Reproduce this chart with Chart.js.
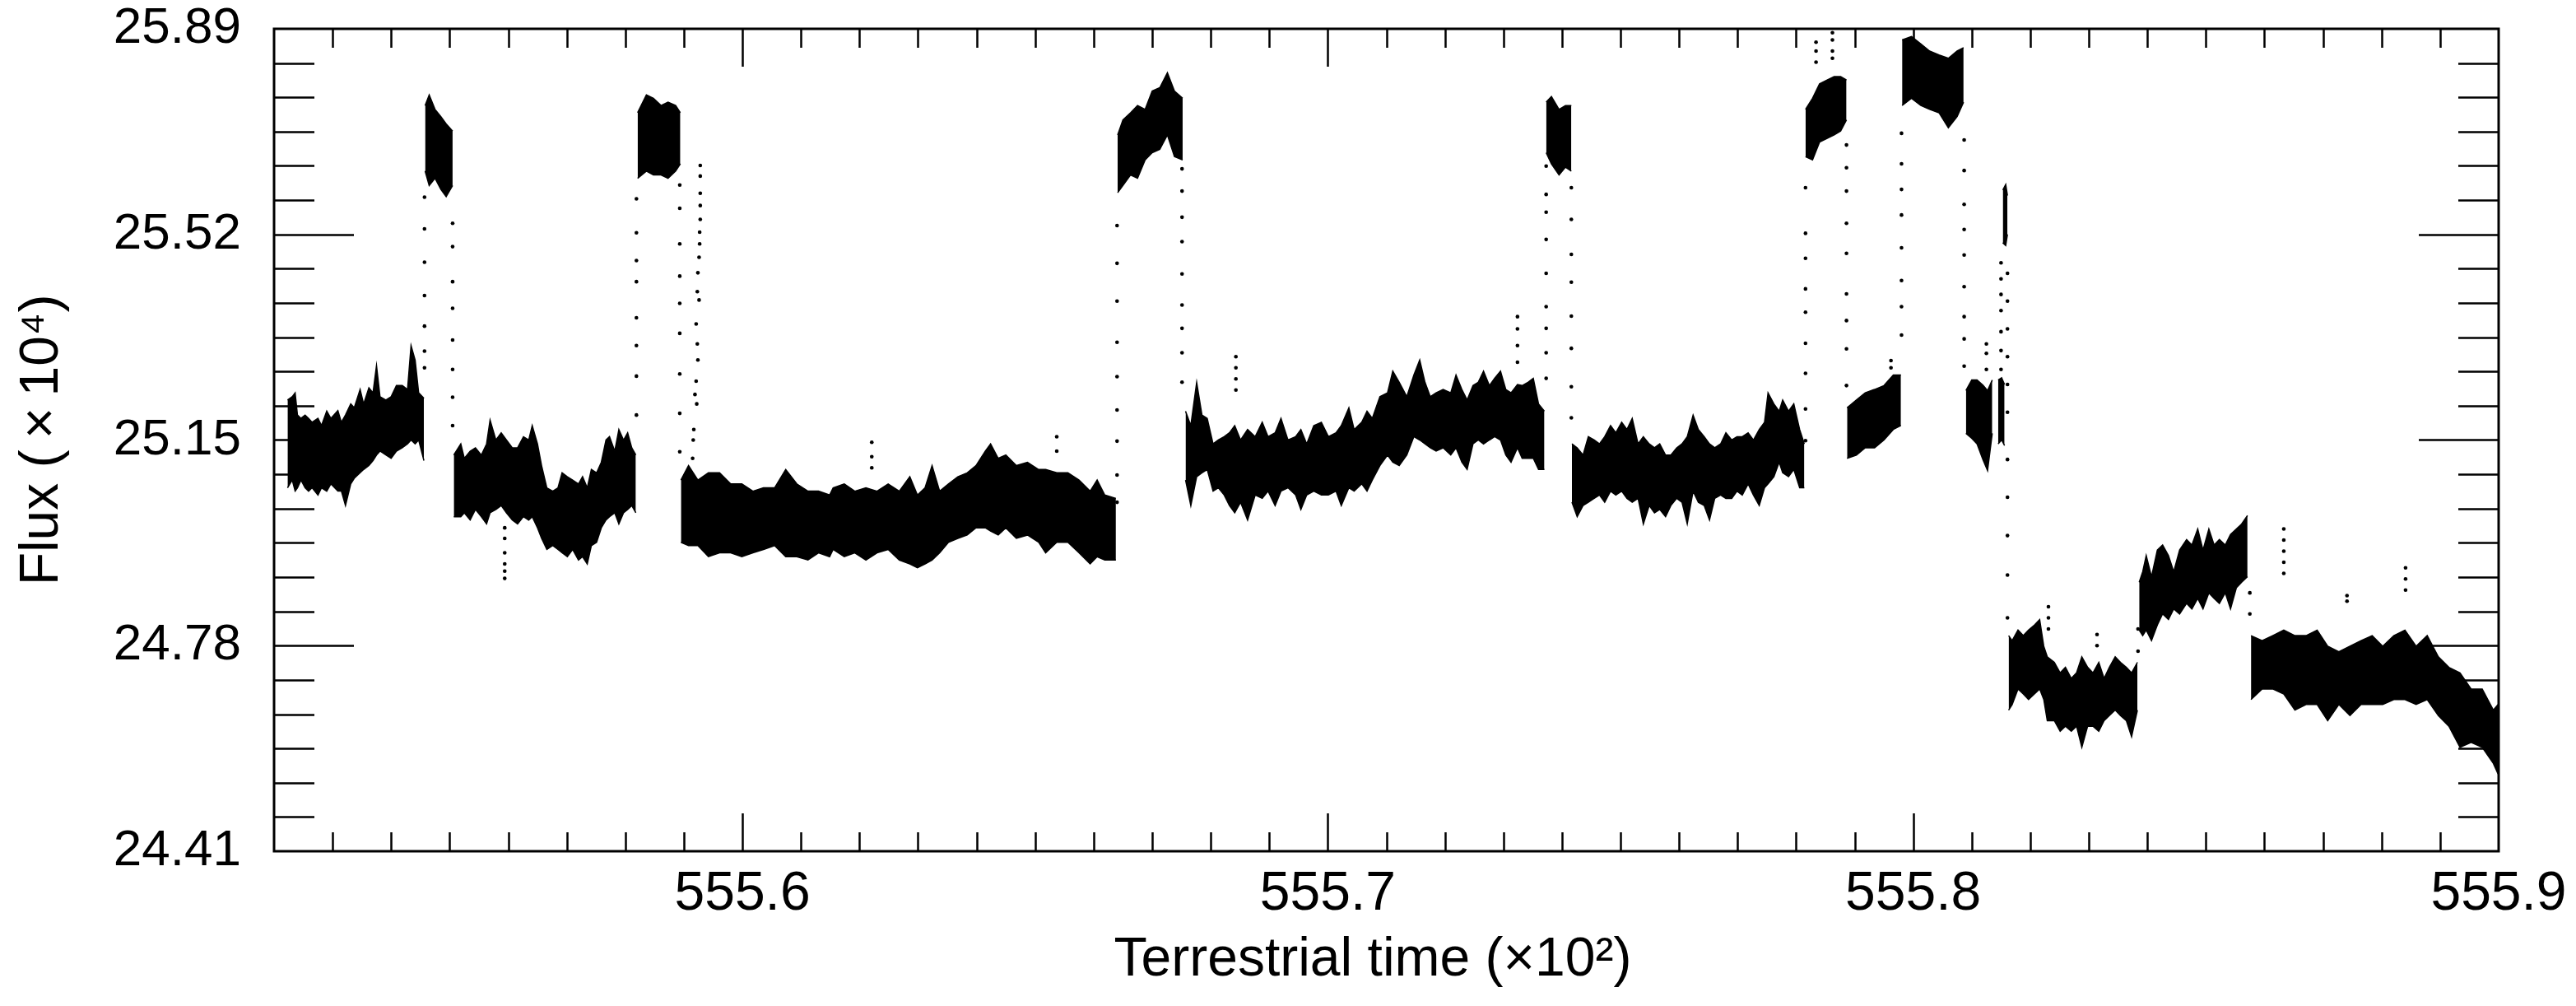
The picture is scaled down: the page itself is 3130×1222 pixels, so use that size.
<!DOCTYPE html>
<html>
<head>
<meta charset="utf-8">
<script src="https://cdn.jsdelivr.net/npm/chart.js@4.4.1/dist/chart.umd.min.js"></script>
<style>
    html, body { margin: 0; padding: 0; background: #fff; }
    #wrap { width: 3130px; height: 1222px; }
</style>
</head>
<body>
<div id="wrap"><canvas id="lc"></canvas></div>
<script>
// TICKS
const xTicks = [555.6, 555.7, 555.8, 555.9];
const yTicks = [24.41, 24.78, 25.15, 25.52, 25.89];

// LIGHT CURVE BANDS: [time, flux low, flux high]
const segA = [
    [555.5223, 25.064, 25.222], [555.5231, 25.078, 25.228], [555.5236, 25.058, 25.235],
    [555.5240, 25.064, 25.195], [555.5246, 25.078, 25.189], [555.5253, 25.064, 25.195],
    [555.5259, 25.058, 25.189], [555.5265, 25.064, 25.182], [555.5275, 25.051, 25.189],
    [555.5281, 25.064, 25.176], [555.5290, 25.058, 25.202], [555.5297, 25.071, 25.189],
    [555.5309, 25.058, 25.203], [555.5315, 25.058, 25.182], [555.5322, 25.032, 25.195],
    [555.5331, 25.071, 25.215], [555.5337, 25.081, 25.208], [555.5347, 25.091, 25.241],
    [555.5353, 25.097, 25.215], [555.5362, 25.104, 25.244], [555.5369, 25.113, 25.235],
    [555.5375, 25.123, 25.284], [555.5381, 25.130, 25.228], [555.5391, 25.123, 25.222],
    [555.5400, 25.117, 25.228], [555.5409, 25.130, 25.248], [555.5419, 25.136, 25.248],
    [555.5428, 25.143, 25.241], [555.5434, 25.150, 25.320], [555.5441, 25.143, 25.294],
    [555.5447, 25.150, 25.235], [555.5456, 25.113, 25.225]
];
const segB = [
    [555.5458, 25.634, 25.752], [555.5465, 25.608, 25.771], [555.5475, 25.621, 25.745],
    [555.5485, 25.601, 25.732], [555.5494, 25.588, 25.719], [555.5505, 25.608, 25.706]
];
const segC = [
    [555.5507, 25.012, 25.123], [555.5519, 25.012, 25.143], [555.5525, 25.019, 25.117],
    [555.5535, 25.006, 25.130], [555.5544, 25.025, 25.136], [555.5554, 25.012, 25.123],
    [555.5563, 24.999, 25.143], [555.5569, 25.019, 25.186], [555.5579, 25.025, 25.150],
    [555.5588, 25.032, 25.163], [555.5597, 25.019, 25.150], [555.5607, 25.006, 25.136],
    [555.5616, 24.999, 25.136], [555.5626, 25.012, 25.156], [555.5635, 25.006, 25.150],
    [555.5641, 25.012, 25.176], [555.5650, 24.992, 25.143], [555.5657, 24.973, 25.104],
    [555.5666, 24.953, 25.064], [555.5676, 24.960, 25.058], [555.5685, 24.953, 25.064],
    [555.5692, 24.947, 25.091], [555.5701, 24.940, 25.084], [555.5710, 24.953, 25.078],
    [555.5720, 24.934, 25.071], [555.5727, 24.940, 25.084], [555.5735, 24.927, 25.064],
    [555.5742, 24.960, 25.097], [555.5751, 24.966, 25.091], [555.5759, 24.992, 25.110],
    [555.5767, 25.006, 25.150], [555.5773, 25.012, 25.156], [555.5782, 25.019, 25.130],
    [555.5789, 24.999, 25.169], [555.5797, 25.019, 25.150], [555.5804, 25.025, 25.163],
    [555.5811, 25.032, 25.136], [555.5818, 25.019, 25.123]
];
const segD = [
    [555.5821, 25.621, 25.739], [555.5836, 25.634, 25.771], [555.5848, 25.627, 25.765],
    [555.5861, 25.627, 25.752], [555.5873, 25.621, 25.758], [555.5886, 25.634, 25.752],
    [555.5894, 25.647, 25.739]
];
const segE = [
    [555.5895, 24.966, 25.078], [555.5908, 24.960, 25.104], [555.5924, 24.960, 25.078],
    [555.5942, 24.940, 25.091], [555.5961, 24.947, 25.091], [555.5980, 24.947, 25.071],
    [555.5999, 24.940, 25.071], [555.6018, 24.947, 25.058], [555.6036, 24.953, 25.064],
    [555.6055, 24.960, 25.064], [555.6074, 24.940, 25.097], [555.6093, 24.940, 25.071],
    [555.6112, 24.934, 25.058], [555.6130, 24.947, 25.058], [555.6149, 24.940, 25.051],
    [555.6155, 24.953, 25.064], [555.6174, 24.940, 25.071], [555.6192, 24.947, 25.058],
    [555.6211, 24.934, 25.064], [555.6230, 24.947, 25.058], [555.6249, 24.953, 25.071],
    [555.6268, 24.934, 25.058], [555.6286, 24.927, 25.084], [555.6299, 24.920, 25.051],
    [555.6312, 24.927, 25.064], [555.6324, 24.934, 25.104], [555.6337, 24.947, 25.058],
    [555.6352, 24.966, 25.071], [555.6368, 24.973, 25.084], [555.6384, 24.979, 25.091],
    [555.6399, 24.992, 25.104], [555.6415, 24.992, 25.130], [555.6424, 24.986, 25.143],
    [555.6437, 24.979, 25.117], [555.6450, 24.992, 25.123], [555.6468, 24.973, 25.104],
    [555.6487, 24.979, 25.110], [555.6506, 24.966, 25.097], [555.6518, 24.947, 25.097],
    [555.6537, 24.966, 25.091], [555.6556, 24.966, 25.091], [555.6575, 24.947, 25.078],
    [555.6594, 24.927, 25.058], [555.6606, 24.940, 25.078], [555.6619, 24.934, 25.051],
    [555.6638, 24.934, 25.045]
];
const segF = [
    [555.6641, 25.595, 25.699], [555.6650, 25.608, 25.726], [555.6663, 25.627, 25.739],
    [555.6675, 25.621, 25.752], [555.6688, 25.654, 25.745], [555.6700, 25.667, 25.778],
    [555.6713, 25.673, 25.784], [555.6726, 25.699, 25.811], [555.6738, 25.660, 25.778],
    [555.6752, 25.654, 25.765]
];
const segG = [
    [555.6757, 25.078, 25.202], [555.6766, 25.032, 25.176], [555.6776, 25.084, 25.254],
    [555.6785, 25.091, 25.195], [555.6794, 25.097, 25.189], [555.6804, 25.058, 25.143],
    [555.6813, 25.064, 25.150], [555.6823, 25.051, 25.156], [555.6832, 25.032, 25.163],
    [555.6841, 25.019, 25.176], [555.6851, 25.038, 25.150], [555.6863, 25.006, 25.169],
    [555.6876, 25.051, 25.156], [555.6888, 25.045, 25.182], [555.6898, 25.058, 25.156],
    [555.6910, 25.032, 25.163], [555.6920, 25.058, 25.189], [555.6932, 25.064, 25.150],
    [555.6945, 25.051, 25.156], [555.6954, 25.025, 25.169], [555.6964, 25.051, 25.143],
    [555.6976, 25.058, 25.176], [555.6989, 25.051, 25.182], [555.7001, 25.051, 25.156],
    [555.7014, 25.058, 25.163], [555.7023, 25.032, 25.176], [555.7036, 25.064, 25.208],
    [555.7045, 25.058, 25.169], [555.7058, 25.071, 25.182], [555.7067, 25.058, 25.202],
    [555.7076, 25.078, 25.189], [555.7089, 25.104, 25.228], [555.7102, 25.123, 25.235],
    [555.7111, 25.110, 25.274], [555.7122, 25.104, 25.254], [555.7135, 25.123, 25.228],
    [555.7147, 25.156, 25.267], [555.7157, 25.150, 25.294], [555.7166, 25.143, 25.254],
    [555.7175, 25.136, 25.228], [555.7185, 25.130, 25.235], [555.7197, 25.136, 25.241],
    [555.7210, 25.123, 25.235], [555.7219, 25.136, 25.267], [555.7229, 25.110, 25.241],
    [555.7238, 25.097, 25.222], [555.7248, 25.143, 25.248], [555.7257, 25.150, 25.254],
    [555.7266, 25.143, 25.274], [555.7276, 25.150, 25.248], [555.7285, 25.156, 25.261],
    [555.7295, 25.150, 25.274], [555.7304, 25.123, 25.241], [555.7313, 25.110, 25.235],
    [555.7324, 25.136, 25.250], [555.7332, 25.117, 25.248], [555.7342, 25.117, 25.254],
    [555.7351, 25.117, 25.261], [555.7360, 25.097, 25.215], [555.7370, 25.097, 25.202]
];
const segH = [
    [555.7373, 25.667, 25.758], [555.7382, 25.647, 25.768], [555.7395, 25.627, 25.745],
    [555.7406, 25.641, 25.752], [555.7416, 25.634, 25.752]
];
const segI = [
    [555.7417, 25.038, 25.143], [555.7426, 25.012, 25.136], [555.7436, 25.032, 25.123],
    [555.7445, 25.038, 25.156], [555.7455, 25.045, 25.150], [555.7464, 25.051, 25.143],
    [555.7473, 25.038, 25.156], [555.7483, 25.058, 25.176], [555.7492, 25.051, 25.163],
    [555.7502, 25.058, 25.182], [555.7511, 25.045, 25.169], [555.7520, 25.038, 25.189],
    [555.7530, 25.045, 25.143], [555.7539, 24.999, 25.156], [555.7549, 25.032, 25.143],
    [555.7558, 25.019, 25.136], [555.7567, 25.025, 25.143], [555.7577, 25.012, 25.123],
    [555.7586, 25.032, 25.123], [555.7596, 25.045, 25.136], [555.7605, 25.038, 25.143],
    [555.7614, 24.999, 25.156], [555.7624, 25.058, 25.195], [555.7633, 25.038, 25.169],
    [555.7643, 25.032, 25.156], [555.7652, 25.006, 25.143], [555.7661, 25.045, 25.136],
    [555.7671, 25.051, 25.143], [555.7680, 25.045, 25.163], [555.7690, 25.045, 25.150],
    [555.7699, 25.058, 25.156], [555.7708, 25.051, 25.156], [555.7718, 25.071, 25.163],
    [555.7727, 25.051, 25.150], [555.7737, 25.032, 25.169], [555.7746, 25.064, 25.182],
    [555.7752, 25.071, 25.235], [555.7762, 25.084, 25.215], [555.7771, 25.110, 25.202],
    [555.7777, 25.091, 25.222], [555.7787, 25.084, 25.202], [555.7796, 25.097, 25.215],
    [555.7806, 25.064, 25.169], [555.7814, 25.064, 25.143]
];
const segJ = [
    [555.7816, 25.660, 25.745], [555.7828, 25.654, 25.765], [555.7840, 25.686, 25.791],
    [555.7853, 25.693, 25.798], [555.7865, 25.699, 25.804], [555.7876, 25.706, 25.804],
    [555.7886, 25.726, 25.798]
];
const segK = [
    [555.7887, 25.117, 25.208], [555.7903, 25.123, 25.222], [555.7918, 25.136, 25.235],
    [555.7934, 25.136, 25.241], [555.7950, 25.150, 25.248], [555.7966, 25.169, 25.267],
    [555.7979, 25.176, 25.267]
];
const segL = [
    [555.7981, 25.752, 25.870], [555.7997, 25.765, 25.876], [555.8013, 25.752, 25.863],
    [555.8028, 25.745, 25.850], [555.8044, 25.739, 25.843], [555.8060, 25.712, 25.837],
    [555.8075, 25.732, 25.850], [555.8086, 25.758, 25.856]
];
const segM = [
    [555.8090, 25.162, 25.239], [555.8100, 25.153, 25.258], [555.8109, 25.143, 25.258],
    [555.8119, 25.115, 25.249], [555.8127, 25.095, 25.239], [555.8135, 25.162, 25.258]
];
const segN = [
    [555.8145, 25.143, 25.258], [555.8151, 25.150, 25.262], [555.8156, 25.140, 25.250]
];
const segN2 = [
    [555.8153, 25.505, 25.600], [555.8158, 25.500, 25.610], [555.8161, 25.520, 25.590]
];
const segO = [
    [555.8163, 24.664, 24.798], [555.8169, 24.674, 24.789], [555.8179, 24.702, 24.808],
    [555.8188, 24.693, 24.798], [555.8197, 24.683, 24.808], [555.8207, 24.693, 24.817],
    [555.8216, 24.702, 24.827], [555.8223, 24.683, 24.779], [555.8229, 24.645, 24.760],
    [555.8241, 24.645, 24.750], [555.8251, 24.626, 24.731], [555.8260, 24.635, 24.741],
    [555.8270, 24.626, 24.721], [555.8279, 24.635, 24.731], [555.8288, 24.597, 24.760],
    [555.8298, 24.635, 24.741], [555.8307, 24.635, 24.731], [555.8317, 24.626, 24.750],
    [555.8326, 24.645, 24.721], [555.8335, 24.654, 24.741], [555.8345, 24.664, 24.760],
    [555.8354, 24.654, 24.750], [555.8364, 24.645, 24.741], [555.8373, 24.616, 24.731],
    [555.8383, 24.664, 24.750]
];
const segP = [
    [555.8386, 24.808, 24.894], [555.8392, 24.798, 24.913], [555.8398, 24.808, 24.942],
    [555.8407, 24.789, 24.904], [555.8417, 24.817, 24.952], [555.8426, 24.837, 24.961],
    [555.8436, 24.827, 24.942], [555.8445, 24.846, 24.913], [555.8455, 24.837, 24.952],
    [555.8467, 24.856, 24.971], [555.8476, 24.846, 24.961], [555.8486, 24.865, 24.990],
    [555.8495, 24.846, 24.952], [555.8505, 24.875, 24.990], [555.8514, 24.865, 24.961],
    [555.8523, 24.856, 24.971], [555.8533, 24.875, 24.961], [555.8542, 24.846, 24.980],
    [555.8552, 24.884, 24.990], [555.8561, 24.894, 24.999], [555.8571, 24.904, 25.014]
];
const segQ = [
    [555.8577, 24.683, 24.798], [555.8596, 24.702, 24.789], [555.8614, 24.702, 24.798],
    [555.8633, 24.693, 24.808], [555.8652, 24.664, 24.798], [555.8671, 24.674, 24.798],
    [555.8690, 24.674, 24.808], [555.8708, 24.645, 24.779], [555.8727, 24.674, 24.769],
    [555.8746, 24.654, 24.779], [555.8765, 24.674, 24.789], [555.8784, 24.674, 24.798],
    [555.8802, 24.674, 24.779], [555.8821, 24.683, 24.798], [555.8840, 24.683, 24.808],
    [555.8859, 24.674, 24.779], [555.8878, 24.683, 24.798], [555.8897, 24.654, 24.760],
    [555.8915, 24.635, 24.741], [555.8934, 24.597, 24.731], [555.8953, 24.606, 24.702],
    [555.8972, 24.597, 24.702], [555.8991, 24.568, 24.664], [555.8999, 24.549, 24.674]
];

// JUMPS: sparse points between the flux levels
const jumpTimes = [555.5457, 555.5505, 555.5819, 555.5893, 555.6640, 555.6751, 555.7373,
    555.7416, 555.7816, 555.7886, 555.7980, 555.8087, 555.8150, 555.8161, 555.8384, 555.8575];
const jumpFlux = [
    [25.28, 25.31, 25.355, 25.41, 25.47, 25.53, 25.587],
    [25.54, 25.498, 25.435, 25.387, 25.33, 25.277, 25.227, 25.176],
    [25.195, 25.265, 25.32, 25.37, 25.435, 25.473, 25.523, 25.584],
    [25.609, 25.567, 25.503, 25.445, 25.396, 25.342, 25.269, 25.198, 25.129],
    [25.038, 25.087, 25.148, 25.204, 25.264, 25.326, 25.40, 25.468, 25.536],
    [25.638, 25.598, 25.551, 25.507, 25.449, 25.393, 25.351, 25.307, 25.254],
    [25.261, 25.307, 25.351, 25.39, 25.45, 25.511, 25.56, 25.592, 25.643],
    [25.604, 25.547, 25.484, 25.434, 25.373, 25.315, 25.246, 25.19],
    [25.149, 25.206, 25.27, 25.324, 25.38, 25.422, 25.477, 25.522, 25.604],
    [25.681, 25.64, 25.598, 25.54, 25.486, 25.413, 25.365, 25.314, 25.248],
    [25.339, 25.39, 25.437, 25.496, 25.555, 25.601, 25.647, 25.702],
    [25.69, 25.635, 25.574, 25.529, 25.483, 25.426, 25.372, 25.332, 25.283],
    [25.277, 25.311, 25.345, 25.383, 25.412, 25.44, 25.469],
    [25.45, 25.40, 25.35, 25.30, 25.25, 25.20, 25.115, 25.047, 24.978, 24.907, 24.83],
    [24.77, 24.81],
    [24.875, 24.837]
];
const trailDots = [
    [555.5928, 25.644], [555.5928, 25.625], [555.5928, 25.594], [555.5928, 25.572],
    [555.5928, 25.547], [555.5927, 25.524], [555.5927, 25.503], [555.5926, 25.479],
    [555.5924, 25.451], [555.5923, 25.417], [555.5926, 25.402], [555.5921, 25.359],
    [555.5923, 25.323], [555.5924, 25.294], [555.5921, 25.256], [555.5919, 25.232],
    [555.5922, 25.215], [555.5917, 25.169], [555.5916, 25.150], [555.5915, 25.117]
];
const outlierDots = [
    [555.5594, 24.992], [555.5594, 24.973], [555.5594, 24.947], [555.5594, 24.927],
    [555.5594, 24.914], [555.5594, 24.901],
    [555.6221, 25.146], [555.6221, 25.120], [555.6221, 25.100],
    [555.6537, 25.156], [555.6537, 25.130],
    [555.6843, 25.300], [555.6843, 25.280], [555.6843, 25.260], [555.6843, 25.240],
    [555.7324, 25.372], [555.7324, 25.350], [555.7324, 25.320], [555.7324, 25.290],
    [555.7834, 25.866], [555.7834, 25.850], [555.7834, 25.830],
    [555.7862, 25.883], [555.7862, 25.870], [555.7862, 25.850], [555.7862, 25.837],
    [555.7962, 25.293], [555.7962, 25.280],
    [555.8125, 25.323], [555.8125, 25.306], [555.8125, 25.277],
    [555.8231, 24.850], [555.8231, 24.830], [555.8231, 24.810],
    [555.8314, 24.800], [555.8314, 24.780],
    [555.8633, 24.990], [555.8633, 24.970], [555.8633, 24.950], [555.8633, 24.930], [555.8633, 24.910],
    [555.8741, 24.870], [555.8741, 24.860],
    [555.8841, 24.920], [555.8841, 24.900], [555.8841, 24.880]
];

const segments = [segA, segB, segC, segD, segE, segF, segG, segH, segI,
    segJ, segK, segL, segM, segN, segN2, segO, segP, segQ];

const FONT = "'Liberation Sans', Arial, Helvetica, sans-serif";

var datasets = [];
segments.forEach(function (seg) {
    datasets.push({
        type: 'line',
        data: seg.map(function (p) { return { x: p[0], y: p[1] }; }),
        borderColor: '#000', borderWidth: 1.5, pointRadius: 0, fill: false
    });
    datasets.push({
        type: 'line',
        data: seg.map(function (p) { return { x: p[0], y: p[2] }; }),
        borderColor: '#000', borderWidth: 1.5, pointRadius: 0,
        fill: '-1', backgroundColor: '#000'
    });
});

var dots = [];
jumpTimes.forEach(function (t, i) {
    jumpFlux[i].forEach(function (f) { dots.push({ x: t, y: f }); });
});
trailDots.concat(outlierDots).forEach(function (p) { dots.push({ x: p[0], y: p[1] }); });

datasets.push({
    type: 'scatter',
    data: dots,
    pointRadius: 2.3,
    pointBackgroundColor: '#000',
    pointBorderWidth: 0
});

// inward ticks and frame, like the original plot
const frameTicks = {
    id: 'frameTicks',
    afterDraw: function (chart) {
        var ctx = chart.ctx, a = chart.chartArea;
        var xs = chart.scales.x, ys = chart.scales.y;
        ctx.save();
        ctx.strokeStyle = '#000';
        ctx.lineWidth = 2.5;
        ctx.beginPath();
        for (var i = 1; i < 38; i++) {
            var v = xs.min + i * 0.01;
            var px = Math.round(xs.getPixelForValue(v)) + 0.5;
            var len = (i + 2) % 10 === 0 ? 46 : 23;
            ctx.moveTo(px, a.bottom); ctx.lineTo(px, a.bottom - len);
            ctx.moveTo(px, a.top); ctx.lineTo(px, a.top + len);
        }
        var step = (yTicks[1] - yTicks[0]) / 6;
        for (var j = 1; j < 24; j++) {
            var py = Math.round(ys.getPixelForValue(yTicks[0] + j * step)) + 0.5;
            var ylen = j % 6 === 0 ? 97 : 49;
            ctx.moveTo(a.left, py); ctx.lineTo(a.left + ylen, py);
            ctx.moveTo(a.right, py); ctx.lineTo(a.right - ylen, py);
        }
        ctx.stroke();
        ctx.lineWidth = 3;
        ctx.strokeRect(a.left, a.top, a.right - a.left, a.bottom - a.top);
        ctx.restore();
    }
};

new Chart(document.getElementById('lc'), {
    type: 'scatter',
    data: { datasets: datasets },
    plugins: [frameTicks],
    options: {
        responsive: true,
        maintainAspectRatio: false,
        animation: false,
        events: [],
        layout: { padding: { top: 0, right: 94, left: 0, bottom: 0 } },
        plugins: { legend: { display: false }, tooltip: { enabled: false } },
        scales: {
            x: {
                type: 'linear',
                min: 555.52,
                max: 555.9,
                grid: { display: false, drawTicks: false },
                border: { display: false },
                afterBuildTicks: function (scale) {
                    scale.ticks = xTicks.map(function (v) { return { value: v }; });
                },
                afterFit: function (scale) {
                    scale.height = 188;
                    scale.paddingLeft = 0;
                    scale.paddingRight = 0;
                },
                ticks: {
                    autoSkip: false, maxRotation: 0, padding: 13, color: '#000',
                    font: { family: FONT, size: 66 },
                    callback: function (v) { return Number(v).toFixed(1); }
                },
                title: {
                    display: true, text: 'Terrestrial time (\u00d710\u00b2)\u2002', color: '#000',
                    font: { family: FONT, size: 66 },
                    padding: { top: 0, bottom: 16 }
                }
            },
            y: {
                type: 'linear',
                min: 24.41,
                max: 25.89,
                grid: { display: false, drawTicks: false },
                border: { display: false },
                afterBuildTicks: function (scale) {
                    scale.ticks = yTicks.map(function (v) { return { value: v }; });
                },
                afterFit: function (scale) {
                    scale.width = 333;
                    scale.paddingTop = 35;
                    scale.paddingBottom = 0;
                },
                ticks: {
                    padding: 40, color: '#000',
                    font: { family: FONT, size: 62 },
                    callback: function (v) { return Number(v).toFixed(2); }
                },
                title: {
                    display: true, text: 'Flux (\u2009\u00d7\u200910\u2074)', color: '#000',
                    font: { family: FONT, size: 66 },
                    padding: { top: 12, bottom: 0 }
                }
            }
        }
    }
});
</script>
</body>
</html>
